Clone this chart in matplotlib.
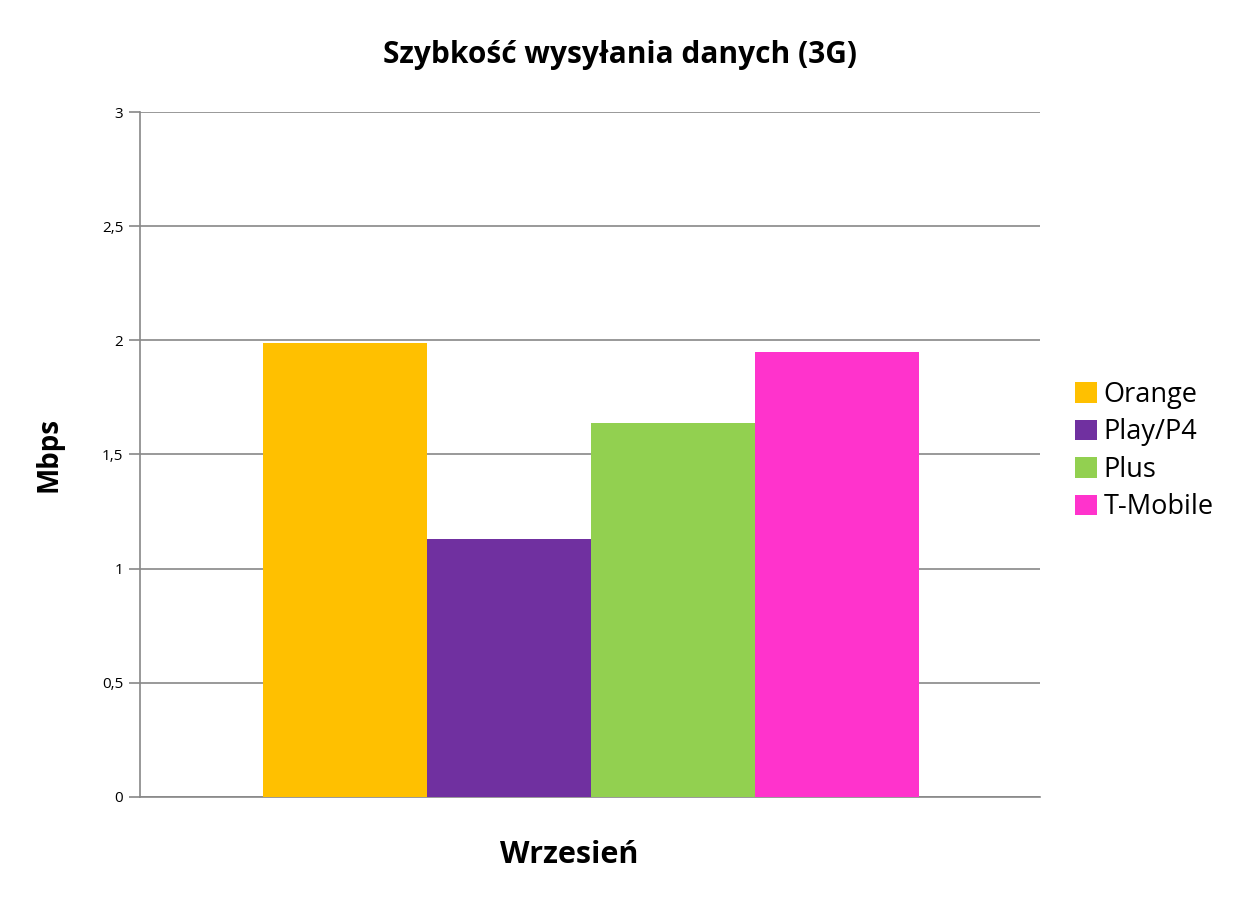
import matplotlib
matplotlib.use("Agg")
import matplotlib.pyplot as plt

operators = ["Orange", "Play/P4", "Plus", "T-Mobile"]
speeds = [1.99, 1.13, 1.64, 1.95]
colors = ["#FFC000", "#7030A0", "#92D050", "#FF33CC"]
yticks = [0, 0.5, 1, 1.5, 2, 2.5, 3]
ytick_labels = ["0", "0,5", "1", "1,5", "2", "2,5", "3"]

plt.rcParams['font.family'] = ['Open Sans', 'DejaVu Sans']

fig = plt.figure(figsize=(12.42, 9.07), dpi=100)
ax = fig.add_axes([0.1127, 0.1213, 0.7247, 0.7552])

width = 0.182
start = 0.137
for i, (name, val, col) in enumerate(zip(operators, speeds, colors)):
    ax.bar(start + width * i, val, width=width, align='edge', color=col,
           label=name, zorder=3)

ax.set_xlim(0, 1)
ax.set_ylim(0, 3)
ax.set_yticks(yticks)
ax.set_yticklabels(ytick_labels, fontsize=11)
ax.set_xticks([])
ax.grid(axis='y', color='#888888', linewidth=1.2, zorder=0)
for s in ['top', 'right']:
    ax.spines[s].set_visible(False)
ax.spines['left'].set_color('#888888')
ax.spines['bottom'].set_color('#888888')
ax.spines['left'].set_linewidth(1.2)
ax.spines['bottom'].set_linewidth(1.2)
ax.tick_params(axis='y', length=8, color='#888888', width=1.2, pad=4)

fig.text(0.4995, 0.939, "Szybkość wysyłania danych (3G)", fontsize=21.5,
         fontweight='bold', ha='center', va='center')
ax.set_xlabel("Wrzesień", fontsize=22, fontweight='bold', labelpad=31)
ax.xaxis.label.set_x(0.477)
ax.set_ylabel("Mbps", fontsize=20, fontweight='bold', labelpad=28)

ax.legend(loc='center left', bbox_to_anchor=(1.027, 0.505), frameon=False,
          fontsize=19.5, handlelength=0.8, handleheight=0.8, handletextpad=0.25,
          labelspacing=0.35, borderaxespad=0)

fig.savefig("out.png", dpi=100)
